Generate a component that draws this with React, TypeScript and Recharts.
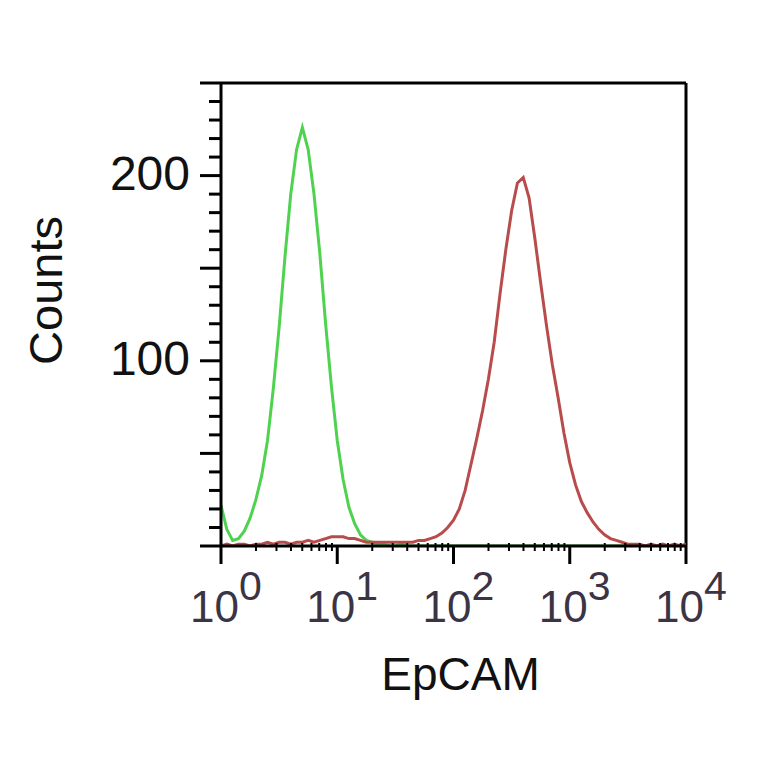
import { LineChart, Line, XAxis, YAxis, ReferenceLine, Label } from 'recharts'

// histogram bins, in decades (log10 of EpCAM intensity)
const BIN_EXP = [
  0, 0.05, 0.1, 0.15, 0.2, 0.25, 0.3, 0.35, 0.4, 0.45,
  0.5, 0.55, 0.6, 0.65, 0.7, 0.75, 0.8, 0.85, 0.9, 0.95,
  1, 1.05, 1.1, 1.15, 1.2, 1.25, 1.3, 1.35, 1.4, 1.45,
  1.5, 1.55, 1.6, 1.65, 1.7, 1.75, 1.8, 1.85, 1.9, 1.95,
  2, 2.05, 2.1, 2.15, 2.2, 2.25, 2.3, 2.35, 2.4, 2.45,
  2.5, 2.55, 2.6, 2.65, 2.7, 2.75, 2.8, 2.85, 2.9, 2.95,
  3, 3.05, 3.1, 3.15, 3.2, 3.25, 3.3, 3.35, 3.4, 3.45,
  3.5, 3.55, 3.6, 3.65, 3.7, 3.75, 3.8, 3.85, 3.9, 3.95,
  4,
]

// isotype control (green)
const CONTROL = [
  22, 9, 3, 4, 8, 15, 25, 38, 57, 85,
  118, 156, 190, 214, 226, 214, 190, 158, 120, 86,
  57, 36, 21, 12, 6, 3, 2, 1, 1, 0,
  0, 1, 0, 0, 0, 0, 0, 0, 0, 0,
  0, 0, 0, 0, 0, 0, 0, 0, 0, 0,
  0, 0, 0, 0, 0, 0, 0, 0, 0, 0,
  0, 0, 0, 0, 0, 0, 0, 0, 0, 0,
  0, 0, 0, 0, 0, 0, 0, 0, 0, 0,
  0,
]

// EpCAM stained (red)
const EPCAM = [
  0, 1, 0, 1, 1, 0, 1, 1, 2, 1,
  2, 2, 1, 2, 2, 3, 2, 3, 4, 5,
  5, 5, 4, 4, 3, 2, 2, 2, 2, 2,
  2, 2, 2, 2, 3, 3, 4, 5, 7, 10,
  14, 20, 30, 44, 58, 73, 90, 110, 136, 160,
  181, 196, 199, 188, 166, 142, 119, 98, 80, 61,
  45, 33, 24, 18, 13, 9, 6, 4, 3, 2,
  1, 1, 1, 0, 1, 0, 1, 0, 1, 0,
  1,
]

const X_DECADES = [0, 1, 2, 3, 4]
const X_MINOR = [0, 1, 2, 3].flatMap(d => [2, 3, 4, 5, 6, 7, 8, 9].map(k => d + Math.log10(k)))
const Y_TICKS = [0, 10, 20, 30, 40, 50, 60, 70, 80, 90, 100, 110, 120, 130, 140, 150, 160, 170, 180, 190, 200, 210, 220, 230, 240, 250]
const Y_LABELED = [100, 200]

const FONT = '"Liberation Sans", Arial, sans-serif'

const data = BIN_EXP.map((e, i) => ({ e, control: CONTROL[i], epcam: EPCAM[i] }))

function XTick(props: any) {
  const { x, y, payload } = props
  const v = payload.value
  const isMajor = Math.abs(v - Math.round(v)) < 1e-6
  if (!isMajor) {
    return <line x1={x} x2={x} y1={y - 3} y2={y + 5} stroke="#000" strokeWidth={2} />
  }
  return (
    <g>
      <line x1={x} x2={x} y1={y} y2={y + 18} stroke="#000" strokeWidth={3} />
      <text x={x + 5} y={y + 76} textAnchor="middle" fill="#3b3444" fontFamily={FONT} fontSize={44}>
        <tspan>10</tspan>
        <tspan dy={-22} fontSize={41}>{Math.round(v)}</tspan>
      </text>
    </g>
  )
}

function YTick(props: any) {
  const { x, y, payload } = props
  const v = payload.value
  const isMajor = v % 50 === 0
  return (
    <g>
      <line x1={x - (isMajor ? 21 : 12)} x2={x} y1={y} y2={y} stroke="#000" strokeWidth={3} />
      {Y_LABELED.includes(v) && (
        <text x={x - 31} y={y + 14} textAnchor="end" fill="#111" fontFamily={FONT} fontSize={48}>
          {v}
        </text>
      )}
    </g>
  )
}

export default function App() {
  return (
    <div style={{ width: 756, height: 756, background: '#fff' }}>
      <LineChart
        width={756}
        height={756}
        data={data}
        margin={{ top: 75, right: 78, left: 0, bottom: 0 }}
        style={{ fontFamily: FONT }}
      >
        <XAxis
          dataKey="e"
          type="number"
          domain={[0, 4]}
          ticks={[...X_DECADES, ...X_MINOR]}
          interval={0}
          tick={<XTick />}
          tickLine={false}
          tickSize={0}
          tickMargin={0}
          height={218}
          axisLine={{ stroke: '#000', strokeWidth: 3 }}
          allowDataOverflow
        >
          <Label
            content={(p: any) => {
              const vb = p.viewBox
              return (
                <text x={vb.x + vb.width / 2 + 7} y={vb.y + 144} textAnchor="middle" fill="#111" fontFamily={FONT} fontSize={46}>
                  EpCAM
                </text>
              )
            }}
          />
        </XAxis>
        <YAxis
          type="number"
          domain={[0, 250]}
          ticks={Y_TICKS}
          interval={0}
          tick={<YTick />}
          tickLine={false}
          tickSize={0}
          tickMargin={0}
          width={213}
          axisLine={{ stroke: '#000', strokeWidth: 3 }}
          allowDataOverflow
        >
          <Label
            content={(p: any) => {
              const vb = p.viewBox
              const cx = vb.x + 54
              const cy = vb.y + vb.height / 2 - 24
              return (
                <text x={cx} y={cy} transform={`rotate(-90, ${cx}, ${cy})`} textAnchor="middle" fill="#111" fontFamily={FONT} fontSize={47}>
                  Counts
                </text>
              )
            }}
          />
        </YAxis>
        <ReferenceLine y={250} stroke="#000" strokeWidth={3} />
        <ReferenceLine x={4} stroke="#000" strokeWidth={3} />
        <Line
          type="linear"
          dataKey="control"
          stroke="#4fd24f"
          strokeWidth={3}
          dot={false}
          isAnimationActive={false}
        />
        <Line
          type="linear"
          dataKey="epcam"
          stroke="#b84c4c"
          strokeWidth={3}
          dot={false}
          isAnimationActive={false}
        />
      </LineChart>
    </div>
  )
}
